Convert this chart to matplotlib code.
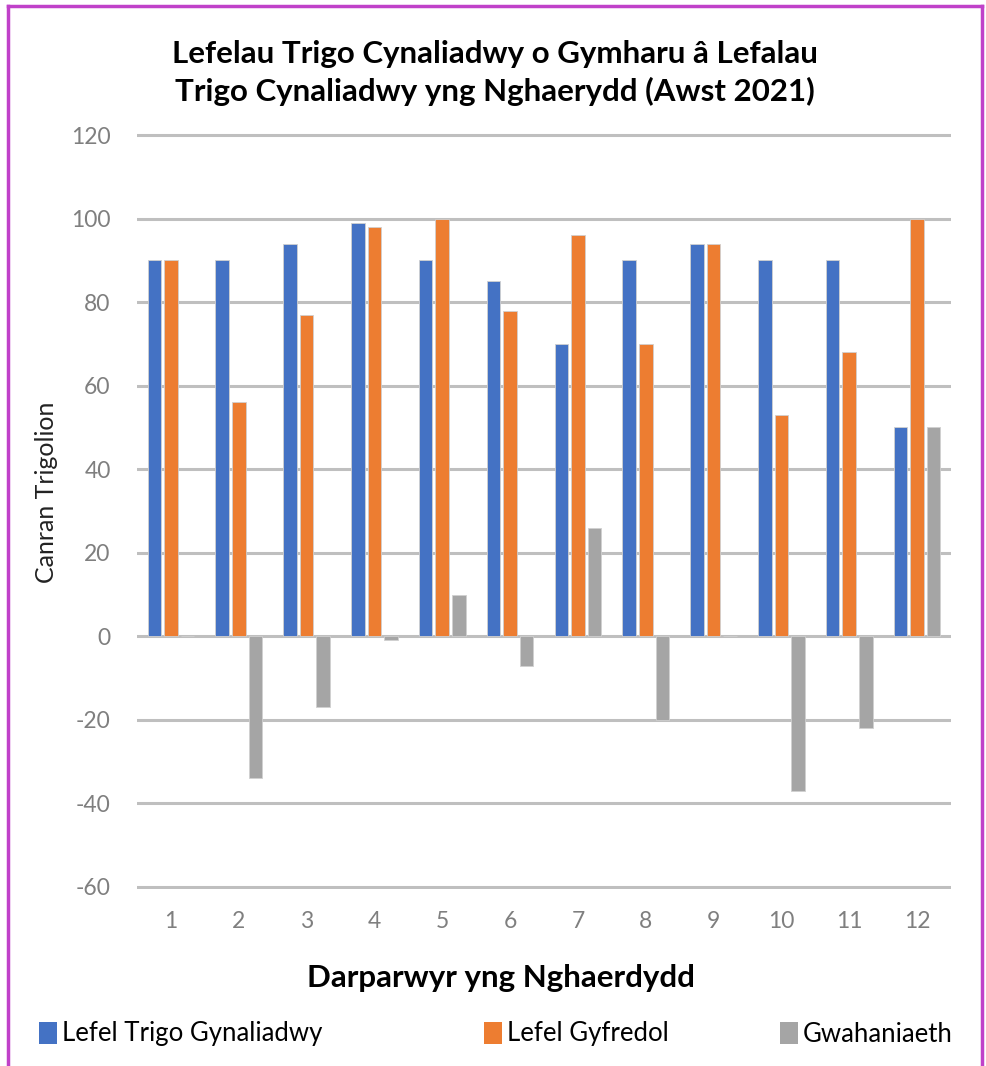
import matplotlib
matplotlib.use("Agg")
import matplotlib.pyplot as plt
import numpy as np
from matplotlib.lines import Line2D
from matplotlib.patches import Patch

plt.rcParams['font.family'] = ['Lato', 'DejaVu Sans']

categories = ['1', '2', '3', '4', '5', '6', '7', '8', '9', '10', '11', '12']
sustainable = [90, 90, 94, 99, 90, 85, 70, 90, 94, 90, 90, 50]
current = [90, 56, 77, 98, 100, 78, 96, 70, 94, 53, 68, 100]
difference = [0, -34, -17, -1, 10, -7, 26, -20, 0, -37, -22, 50]
series_names = ['Lefel Trigo Gynaliadwy', 'Lefel Gyfredol', 'Gwahaniaeth']
yticks = [-60, -40, -20, 0, 20, 40, 60, 80, 100, 120]

colors = ['#4472C4', '#ED7D31', '#A5A5A5']

W, H = 986, 1066
fig = plt.figure(figsize=(W / 100, H / 100), dpi=100)
fig.patch.set_facecolor('white')

ax_left, ax_right = 137 / W, 951 / W
ax_top, ax_bottom = 1 - 133 / H, 1 - 889 / H
ax = fig.add_axes([ax_left, ax_bottom, ax_right - ax_left, ax_top - ax_bottom])

x = np.arange(len(categories))
bw = 0.2
step = 0.245
for i, (vals, c) in enumerate(zip([sustainable, current, difference], colors)):
    ax.bar(x + (i - 1) * step, vals, width=bw, color=c, edgecolor='#D0D0D0',
           linewidth=0.6, zorder=3, label=series_names[i])

ax.set_xlim(-0.5, len(categories) - 0.5)
ax.set_ylim(-60.5, 120.5)
ax.set_yticks(yticks)
ax.set_yticklabels([str(v) for v in yticks])
ax.set_xticks(x)
ax.set_xticklabels(categories)
ax.yaxis.grid(True, color='#BFBFBF', linewidth=2.2, zorder=0)
ax.set_axisbelow(True)
for s in ax.spines.values():
    s.set_visible(False)
ax.tick_params(axis='both', length=0, labelsize=16.5, labelcolor='#7F7F7F')
ax.tick_params(axis='y', pad=19)
ax.tick_params(axis='x', pad=16)

ax.set_ylabel('Canran Trigolion', fontsize=18, color='#222222')
ax.yaxis.set_label_coords((58 - 137) / 814, (887 - 492) / 752)
ax.set_xlabel('Darparwyr yng Nghaerdydd', fontsize=22.5, fontweight='bold',
              color='black')
ax.xaxis.set_label_coords((501 - 137) / 814, (887 - 962) / 752)

fig.text(0.502, 1 - 73 / H,
         'Lefelau Trigo Cynaliadwy o Gymharu â Lefalau\nTrigo Cynaliadwy yng Nghaerydd (Awst 2021)',
         ha='center', va='center', fontsize=22.5, fontweight='bold',
         linespacing=1.4, color='black')

# legend entries placed individually
leg_x = [39 / W, 484 / W, 780 / W]
for i in range(3):
    h = Patch(facecolor=colors[i], edgecolor='none')
    lg = fig.legend([h], [series_names[i]], loc='center left',
                    bbox_to_anchor=(leg_x[i], 1 - 1034 / H), frameon=False,
                    fontsize=18.5, handlelength=0.7, handleheight=0.95,
                    handletextpad=0.2, borderaxespad=0, borderpad=0)
    for t in lg.get_texts():
        t.set_color('black')

# magenta border
bc = '#C041C9'
fig.add_artist(Line2D([8 / W, 8 / W], [0, 1 - 6 / H], color=bc, linewidth=2.5,
                      transform=fig.transFigure))
fig.add_artist(Line2D([8 / W, 982 / W], [1 - 6 / H, 1 - 6 / H], color=bc,
                      linewidth=2.5, transform=fig.transFigure))
fig.add_artist(Line2D([982 / W, 982 / W], [0, 1 - 6 / H], color=bc,
                      linewidth=2.5, transform=fig.transFigure))

fig.savefig('out.png', dpi=100, facecolor='white')
